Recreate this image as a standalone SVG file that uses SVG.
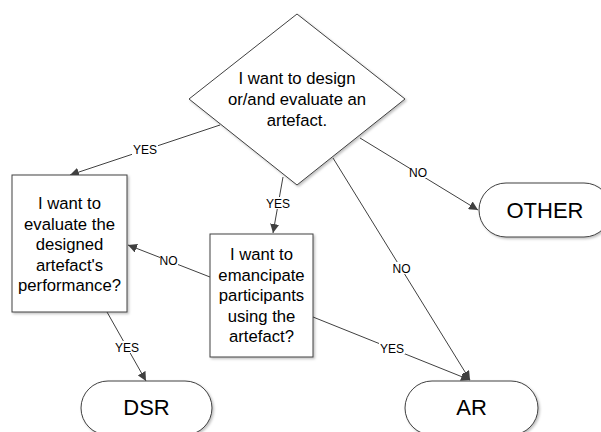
<svg xmlns="http://www.w3.org/2000/svg" width="601" height="432" viewBox="0 0 601 432">
<defs>
<style>
.shape{fill:#fff;stroke:#404040;stroke-width:1}
.txt{font-family:"Liberation Sans",Arial,sans-serif;font-size:16.7px;fill:#000;text-anchor:middle}
.big{font-family:"Liberation Sans",Arial,sans-serif;font-size:22px;fill:#000;text-anchor:middle}
.lbl{font-family:"Liberation Sans",Arial,sans-serif;font-size:12px;fill:#000;text-anchor:middle}
.edge{stroke:#404040;stroke-width:1;fill:none;marker-end:url(#arr)}
.lblbg{fill:#fff}
</style>
<marker id="arr" viewBox="0 0 10 10" refX="10" refY="5" markerWidth="9" markerHeight="9" markerUnits="userSpaceOnUse" orient="auto">
<path d="M0,0 L10,5 L0,10 z" fill="#404040"/>
</marker>
<filter id="sh" x="-10%" y="-10%" width="130%" height="130%">
<feDropShadow dx="1.5" dy="1.5" stdDeviation="1" flood-color="#000" flood-opacity="0.25"/>
</filter>
</defs>
<rect width="601" height="432" fill="#fff"/>

<g id="connectors">
<line class="edge" x1="220" y1="125" x2="70" y2="175"/>
<line class="edge" x1="283" y1="177" x2="273" y2="233"/>
<line class="edge" x1="360" y1="138" x2="478" y2="210"/>
<line class="edge" x1="333" y1="158" x2="470" y2="380"/>
<line class="edge" x1="210" y1="277" x2="128" y2="245"/>
<line class="edge" x1="313" y1="317" x2="470" y2="380"/>
<line class="edge" x1="107" y1="312" x2="146" y2="381"/>
<rect class="lblbg" x="132" y="144" width="26" height="12"/>
<text class="lbl" x="145" y="154">YES</text>
<rect class="lblbg" x="265" y="197" width="26" height="12"/>
<text class="lbl" x="278" y="208">YES</text>
<rect class="lblbg" x="410" y="166" width="18" height="12"/>
<text class="lbl" x="418" y="177">NO</text>
<rect class="lblbg" x="393" y="262" width="18" height="12"/>
<text class="lbl" x="401.5" y="273">NO</text>
<rect class="lblbg" x="160" y="254" width="18" height="12"/>
<text class="lbl" x="168.5" y="265">NO</text>
<rect class="lblbg" x="379" y="342" width="26" height="12"/>
<text class="lbl" x="392" y="353">YES</text>
<rect class="lblbg" x="114" y="341" width="26" height="12"/>
<text class="lbl" x="127" y="352">YES</text>
</g>

<g id="decision-design">
<polygon class="shape" filter="url(#sh)" points="297,14 405,99 297,185 189,99"/>
<text class="txt" x="297" y="84">I want to design</text>
<text class="txt" x="297" y="105">or/and evaluate an</text>
<text class="txt" x="297" y="126">artefact.</text>
</g>

<g id="q-evaluate">
<rect class="shape" filter="url(#sh)" x="12" y="175" width="115" height="137"/>
<text class="txt" x="69.5" y="209">I want to</text>
<text class="txt" x="69.5" y="229.5">evaluate the</text>
<text class="txt" x="69.5" y="250">designed</text>
<text class="txt" x="69.5" y="270.5">artefact's</text>
<text class="txt" x="69.5" y="291">performance?</text>
</g>

<g id="q-emancipate">
<rect class="shape" filter="url(#sh)" x="210" y="234" width="103" height="123"/>
<text class="txt" x="261.5" y="260">I want to</text>
<text class="txt" x="261.5" y="280.6">emancipate</text>
<text class="txt" x="261.5" y="301.2">participants</text>
<text class="txt" x="261.5" y="321.8">using the</text>
<text class="txt" x="261.5" y="342.4">artefact?</text>
</g>

<g id="other">
<rect class="shape" filter="url(#sh)" x="479" y="183" width="132" height="54" rx="27" ry="27"/>
<text class="big" x="545" y="218">OTHER</text>
</g>

<g id="dsr">
<rect class="shape" filter="url(#sh)" x="81" y="381" width="131" height="54" rx="27" ry="27"/>
<text class="big" x="146.5" y="415">DSR</text>
</g>

<g id="ar">
<rect class="shape" filter="url(#sh)" x="405" y="381" width="133" height="54" rx="27" ry="27"/>
<text class="big" x="471.5" y="415">AR</text>
</g>
</svg>
